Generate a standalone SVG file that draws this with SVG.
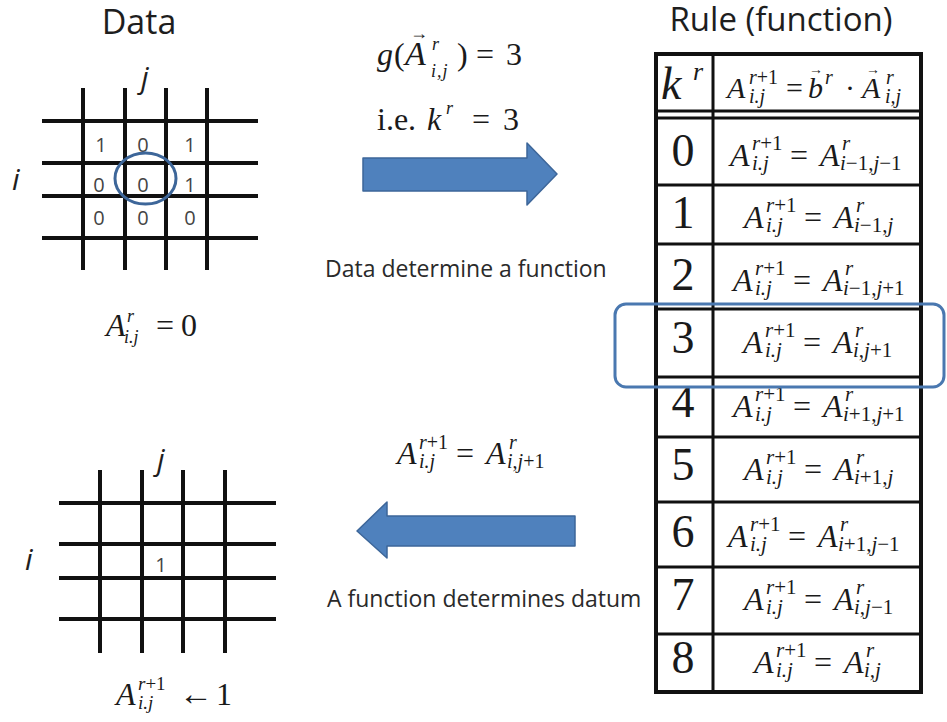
<svg xmlns="http://www.w3.org/2000/svg" width="947" height="722" viewBox="0 0 947 722">
<style>
.bg{fill:#ffffff}
.ttl{font-family:"Open Sans","Liberation Sans",sans-serif;fill:#1e1e1e}
.lbl{font-family:"Open Sans","Liberation Sans",sans-serif;font-size:23px;fill:#2a2a2a}
.cell{font-family:"Open Sans","Liberation Sans",sans-serif;font-size:20px;fill:#444;text-anchor:middle}
.idx{font-family:"Open Sans","Liberation Sans",sans-serif;font-size:30px;font-style:italic;fill:#1e1e1e}
.grid line{stroke:#111;stroke-width:4;stroke-linecap:butt}
.f{font-family:"Liberation Serif","Times New Roman",serif;font-size:32px;fill:#1a1a1a}
.fh{font-family:"Liberation Serif","Times New Roman",serif;font-size:30px;fill:#1a1a1a}
.i{font-style:italic}
.sc{font-size:21px}
.sh{font-size:20px}
.num{font-family:"Liberation Serif","Times New Roman",serif;font-size:46px;fill:#1a1a1a;text-anchor:middle}
.tb line{stroke:#111;stroke-width:3}
.big{fill:#4f81bd;stroke:#3d6699;stroke-width:1.5;stroke-linejoin:round}
.hl{fill:none;stroke:#4a78b0;stroke-width:3}
</style>
<rect class="bg" x="0" y="0" width="947" height="722"/>

<!-- Titles -->
<g id="title-data"><text class="ttl" x="139" y="34" font-size="34" text-anchor="middle">Data</text></g>
<g id="title-rule"><text class="ttl" x="781" y="31" font-size="33" text-anchor="middle">Rule (function)</text></g>

<!-- Top data grid -->
<g id="grid-top" class="grid">
<line x1="83" y1="88" x2="83" y2="270"/>
<line x1="125" y1="88" x2="125" y2="270"/>
<line x1="166" y1="88" x2="166" y2="270"/>
<line x1="207" y1="88" x2="207" y2="270"/>
<line x1="42" y1="121" x2="258" y2="121"/>
<line x1="42" y1="163" x2="258" y2="163"/>
<line x1="42" y1="196" x2="258" y2="196"/>
<line x1="42" y1="238" x2="258" y2="238"/>
<text class="cell" x="101" y="152">1</text>
<text class="cell" x="143" y="152">0</text>
<text class="cell" x="190" y="152">1</text>
<text class="cell" x="99" y="192">0</text>
<text class="cell" x="143" y="192">0</text>
<text class="cell" x="190" y="192">1</text>
<text class="cell" x="99" y="225">0</text>
<text class="cell" x="143" y="225">0</text>
<text class="cell" x="190" y="225">0</text>
<text class="idx" x="12" y="190">i</text>
<text class="idx" x="141" y="88">j</text>
<ellipse cx="145.5" cy="178.5" rx="30.5" ry="25.5" fill="none" stroke="#3d6699" stroke-width="3"/>
</g>

<g id="eq-data">
<text class="f" font-size="28"><tspan class="i" x="106" y="336">A</tspan><tspan class="i" font-size="18" x="127" y="322">r</tspan><tspan class="i" font-size="18" x="124" y="343">i.j</tspan><tspan x="156" y="336" font-size="32">=</tspan><tspan x="181" y="336" font-size="32">0</tspan></text>
</g>

<!-- Bottom data grid -->
<g id="grid-bottom" class="grid">
<line x1="100" y1="470" x2="100" y2="653"/>
<line x1="142" y1="470" x2="142" y2="653"/>
<line x1="183" y1="470" x2="183" y2="653"/>
<line x1="225" y1="470" x2="225" y2="653"/>
<line x1="59" y1="503" x2="276" y2="503"/>
<line x1="59" y1="544" x2="276" y2="544"/>
<line x1="59" y1="578" x2="276" y2="578"/>
<line x1="59" y1="619" x2="276" y2="619"/>
<text class="cell" x="161" y="572">1</text>
<text class="idx" x="25" y="570">i</text>
<text class="idx" x="157" y="470">j</text>
</g>

<g id="eq-update">
<text class="f" font-size="30"><tspan class="i" x="116" y="705">A</tspan><tspan font-size="19" x="138" y="690"><tspan class="i">r</tspan>+1</tspan><tspan class="i" font-size="19" x="138" y="709">i.j</tspan><tspan x="179" y="705" font-size="34">←</tspan><tspan x="216" y="705" font-size="32">1</tspan></text>
</g>

<!-- Middle formulas and labels -->
<g id="eq-g">
<text class="f" font-size="32"><tspan class="i" x="377" y="65">g</tspan><tspan x="394" y="65">(</tspan><tspan class="i" x="405" y="65" font-size="34">A</tspan><tspan x="410" y="39" font-size="18">→</tspan><tspan class="i" font-size="18" x="432" y="50">r</tspan><tspan class="i" font-size="18" x="431" y="77" letter-spacing="1">i,j</tspan><tspan x="457" y="65">)</tspan><tspan x="476" y="65">=</tspan><tspan x="506" y="65">3</tspan></text>
<text class="f" font-size="32"><tspan x="377" y="130">i.e.</tspan><tspan class="i" x="427" y="130">k</tspan><tspan class="i" font-size="18" x="446" y="114">r</tspan><tspan x="472" y="130">=</tspan><tspan x="503" y="130">3</tspan></text>
</g>
<g id="label-top"><text class="lbl" x="325" y="277" font-size="23.5">Data determine a function</text></g>

<g id="eq-rule3">
<text class="f" font-size="30"><tspan class="i" x="397" y="464">A</tspan><tspan font-size="20" x="419" y="449"><tspan class="i">r</tspan>+1</tspan><tspan class="i" font-size="20" x="419" y="468">i.j</tspan><tspan x="456" y="464">=</tspan><tspan class="i" x="486" y="464">A</tspan><tspan class="i" font-size="20" x="509" y="449">r</tspan><tspan font-size="20" x="507" y="468"><tspan class="i">i</tspan>,<tspan class="i">j</tspan>+1</tspan></text>
</g>
<g id="label-bottom"><text class="lbl" x="327" y="607">A function determines datum</text></g>

<!-- Connectors (big block arrows) -->
<g id="connectors">
<polygon class="big" points="363,158 527,158 527,143 557,174 527,205 527,191 363,191"/>
<polygon class="big" points="357,531 387,502 387,516 575,516 575,546 387,546 387,558"/>
</g>

<!-- Rule table -->
<g id="rule-table" class="tb">
<rect x="656" y="54" width="265" height="638" fill="none" stroke="#111" stroke-width="4"/>
<line x1="713" y1="54" x2="713" y2="692"/>
<line x1="656" y1="111" x2="921" y2="111"/>
<line x1="656" y1="118" x2="921" y2="118"/>
<line x1="656" y1="185" x2="921" y2="185"/>
<line x1="656" y1="244" x2="921" y2="244"/>
<line x1="656" y1="309" x2="921" y2="309" stroke-width="4"/>
<line x1="656" y1="377" x2="921" y2="377" stroke-width="4"/>
<line x1="656" y1="437" x2="921" y2="437"/>
<line x1="656" y1="502" x2="921" y2="502" stroke-width="4"/>
<line x1="656" y1="567" x2="921" y2="567"/>
<line x1="656" y1="634" x2="921" y2="634"/>
</g>

<g id="table-header">
<text class="fh"><tspan class="i" x="661" y="99" font-size="46">k</tspan><tspan class="i" x="693" y="80" font-size="26">r</tspan></text>
<text class="fh"><tspan class="i" x="727" y="98">A</tspan><tspan class="sh" x="749" y="84"><tspan class="i">r</tspan>+1</tspan><tspan class="sh i" x="749" y="103">i.j</tspan><tspan x="786" y="98">=</tspan><tspan class="i" x="808" y="98">b</tspan><tspan x="809" y="74" font-size="14">→</tspan><tspan class="sh i" x="825" y="84">r</tspan><tspan x="845" y="98">·</tspan><tspan class="i" x="862" y="98">A</tspan><tspan x="866" y="74" font-size="14">→</tspan><tspan class="sh i" x="886" y="84">r</tspan><tspan class="sh i" x="885" y="103">i,j</tspan></text>
</g>

<g id="row-0">
<text class="num" x="683" y="166">0</text>
<text class="f"><tspan class="i" x="730" y="166">A</tspan><tspan class="sc" x="752" y="150"><tspan class="i">r</tspan>+1</tspan><tspan class="sc i" x="752" y="170">i.j</tspan><tspan x="790" y="166">=</tspan><tspan class="i" x="820" y="166">A</tspan><tspan class="sc i" x="842" y="150">r</tspan><tspan class="sc" x="840" y="170"><tspan class="i">i</tspan>−1,<tspan class="i">j</tspan>−1</tspan></text>
</g>
<g id="row-1">
<text class="num" x="683" y="228">1</text>
<text class="f"><tspan class="i" x="744" y="228">A</tspan><tspan class="sc" x="766" y="212"><tspan class="i">r</tspan>+1</tspan><tspan class="sc i" x="766" y="232">i.j</tspan><tspan x="804" y="228">=</tspan><tspan class="i" x="834" y="228">A</tspan><tspan class="sc i" x="856" y="212">r</tspan><tspan class="sc" x="854" y="232"><tspan class="i">i</tspan>−1,<tspan class="i">j</tspan></tspan></text>
</g>
<g id="row-2">
<text class="num" x="683" y="290">2</text>
<text class="f"><tspan class="i" x="733" y="291">A</tspan><tspan class="sc" x="755" y="275"><tspan class="i">r</tspan>+1</tspan><tspan class="sc i" x="755" y="295">i.j</tspan><tspan x="793" y="291">=</tspan><tspan class="i" x="823" y="291">A</tspan><tspan class="sc i" x="845" y="275">r</tspan><tspan class="sc" x="843" y="295"><tspan class="i">i</tspan>−1,<tspan class="i">j</tspan>+1</tspan></text>
</g>
<g id="row-3">
<text class="num" x="683" y="353">3</text>
<text class="f"><tspan class="i" x="743" y="353">A</tspan><tspan class="sc" x="765" y="337"><tspan class="i">r</tspan>+1</tspan><tspan class="sc i" x="765" y="357">i.j</tspan><tspan x="803" y="353">=</tspan><tspan class="i" x="833" y="353">A</tspan><tspan class="sc i" x="855" y="337">r</tspan><tspan class="sc" x="853" y="357"><tspan class="i">i</tspan>,<tspan class="i">j</tspan>+1</tspan></text>
</g>
<g id="row-4">
<text class="num" x="683" y="417">4</text>
<text class="f"><tspan class="i" x="733" y="417">A</tspan><tspan class="sc" x="755" y="401"><tspan class="i">r</tspan>+1</tspan><tspan class="sc i" x="755" y="421">i.j</tspan><tspan x="793" y="417">=</tspan><tspan class="i" x="823" y="417">A</tspan><tspan class="sc i" x="845" y="401">r</tspan><tspan class="sc" x="843" y="421"><tspan class="i">i</tspan>+1,<tspan class="i">j</tspan>+1</tspan></text>
</g>
<g id="row-5">
<text class="num" x="683" y="480">5</text>
<text class="f"><tspan class="i" x="744" y="480">A</tspan><tspan class="sc" x="766" y="464"><tspan class="i">r</tspan>+1</tspan><tspan class="sc i" x="766" y="484">i.j</tspan><tspan x="804" y="480">=</tspan><tspan class="i" x="834" y="480">A</tspan><tspan class="sc i" x="856" y="464">r</tspan><tspan class="sc" x="854" y="484"><tspan class="i">i</tspan>+1,<tspan class="i">j</tspan></tspan></text>
</g>
<g id="row-6">
<text class="num" x="683" y="547">6</text>
<text class="f"><tspan class="i" x="728" y="547">A</tspan><tspan class="sc" x="750" y="531"><tspan class="i">r</tspan>+1</tspan><tspan class="sc i" x="750" y="551">i.j</tspan><tspan x="788" y="547">=</tspan><tspan class="i" x="818" y="547">A</tspan><tspan class="sc i" x="840" y="531">r</tspan><tspan class="sc" x="838" y="551"><tspan class="i">i</tspan>+1,<tspan class="i">j</tspan>−1</tspan></text>
</g>
<g id="row-7">
<text class="num" x="683" y="610">7</text>
<text class="f"><tspan class="i" x="744" y="610">A</tspan><tspan class="sc" x="766" y="594"><tspan class="i">r</tspan>+1</tspan><tspan class="sc i" x="766" y="614">i.j</tspan><tspan x="804" y="610">=</tspan><tspan class="i" x="834" y="610">A</tspan><tspan class="sc i" x="856" y="594">r</tspan><tspan class="sc" x="854" y="614"><tspan class="i">i</tspan>,<tspan class="i">j</tspan>−1</tspan></text>
</g>
<g id="row-8">
<text class="num" x="683" y="673">8</text>
<text class="f"><tspan class="i" x="754" y="673">A</tspan><tspan class="sc" x="776" y="657"><tspan class="i">r</tspan>+1</tspan><tspan class="sc i" x="776" y="677">i.j</tspan><tspan x="814" y="673">=</tspan><tspan class="i" x="844" y="673">A</tspan><tspan class="sc i" x="866" y="657">r</tspan><tspan class="sc i" x="864" y="677">i,j</tspan></text>
</g>

<g id="highlight">
<rect class="hl" x="615" y="304" width="329" height="83" rx="11" ry="11"/>
</g>
</svg>
